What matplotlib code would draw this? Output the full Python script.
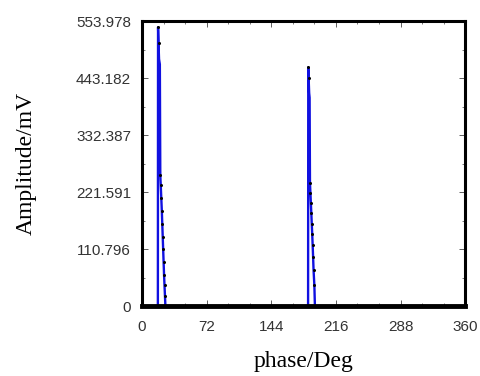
import numpy as np
import matplotlib
matplotlib.use("Agg")
import matplotlib.pyplot as plt

# pulse 1 and pulse 2 (phase in deg, amplitude in mV)
phase1 = [17.6, 17.8, 18.3, 18.9, 19.8, 20.3, 20.8, 21.4, 22.0, 22.5, 23.0, 23.5, 24.0, 24.5, 25.0, 25.5, 26.0]
amp1 = [0, 542, 511, 480, 470, 255, 235, 210, 185, 160, 135, 110, 85, 60, 40, 20, 0]
phase2 = [185.0, 185.2, 185.6, 186.2, 186.7, 187.1, 187.6, 188.1, 188.6, 189.1, 189.6, 190.1, 190.6, 191.1, 192.0, 192.6]
amp2 = [0, 464, 443, 414, 405, 239, 220, 200, 180, 160, 140, 118, 95, 70, 40, 0]
dots1 = phase1[1:3] + phase1[5:-1]
dots1_y = amp1[1:3] + amp1[5:-1]
dots2 = phase2[1:3] + phase2[5:-1]
dots2_y = amp2[1:3] + amp2[5:-1]

yticks = [0, 110.796, 221.591, 332.387, 443.182, 553.978]
ytick_labels = ["0", "110.796", "221.591", "332.387", "443.182", "553.978"]
xticks = [0, 72, 144, 216, 288, 360]

fig = plt.figure(figsize=(4.8, 3.76), dpi=100)
ax = fig.add_axes([0.296, 0.186, 0.673, 0.758])

ax.plot(phase1, amp1, color="#1010e0", lw=1.7)
ax.plot(phase2, amp2, color="#1010e0", lw=1.7)
ax.plot(dots1, dots1_y, "o", color="black", ms=2.2, mew=0)
ax.plot(dots2, dots2_y, "o", color="black", ms=2.2, mew=0)

ax.set_xlim(0, 360)
ax.set_ylim(0, 553.978)
ax.set_xticks(xticks)
ax.set_xticks(np.arange(0, 361, 24), minor=True)
ax.set_yticks(yticks)
ax.set_yticklabels(ytick_labels)
ax.set_yticks(np.arange(0, 554, 55.3978), minor=True)

ax.tick_params(which="both", direction="in", top=True, right=True,
               labelsize=11, labelcolor="#333333", color="#444444")
for lbl in ax.get_xticklabels() + ax.get_yticklabels():
    lbl.set_family("Liberation Sans")
ax.tick_params(which="major", length=4, width=0.6)
ax.tick_params(which="minor", length=2.5, width=0.5)
ax.tick_params(axis="x", pad=10)
ax.tick_params(axis="y", pad=8)
for s in ax.spines.values():
    s.set_linewidth(2.2)
ax.spines["bottom"].set_linewidth(3.5)

ax.set_xlabel("phase/Deg", family="Liberation Serif", fontsize=17, labelpad=12)
ax.set_ylabel("Amplitude/mV", family="Liberation Serif", fontsize=17, labelpad=28)

fig.savefig("out.png", dpi=100)
